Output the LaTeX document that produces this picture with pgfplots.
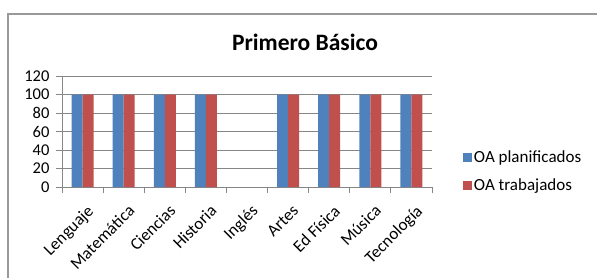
\documentclass[border=0pt]{standalone}
\usepackage{fontspec}
\setmainfont{Carlito}
\usepackage{pgfplots}
\pgfplotsset{compat=1.18}
\definecolor{cblue}{HTML}{4F81BD}
\definecolor{cred}{HTML}{C0504D}
\definecolor{cgrid}{HTML}{868686}
\begin{document}
\begin{tikzpicture}[x=1pt,y=1pt]
\useasboundingbox (0,0) rectangle (597,277);
\draw[color=black!40, line width=1.5pt] (8,-5) -- (8,263) -- (605,263);
\node[font=\fontsize{23.5}{27}\selectfont\bfseries] at (305,235) {Primero Básico};
\begin{axis}[
  at={(62pt,90pt)}, anchor=south west,
  scale only axis, width=370pt, height=111pt,
  xmin=-0.5, xmax=8.5, ymin=0, ymax=120,
  ybar=0pt, bar width=11pt,
  axis x line*=bottom, axis y line*=left,
  ytick={0,20,...,120}, ymajorgrids,
  grid style={cgrid, line width=0.8pt},
  xtick={0,...,8},
  xticklabels={Lenguaje, Matemática, Ciencias, Historia, Inglés, Artes, Ed Física, Música, Tecnología},
  major x tick style={draw=none},
  minor xtick={-0.5,0.5,...,8.5},
  x tick label style={rotate=45, anchor=north east, inner sep=1pt, yshift=-9pt, xshift=-4pt, font=\fontsize{17}{20}\selectfont},
  y tick label style={font=\fontsize{16.5}{20}\selectfont, xshift=-3pt},
  tick align=outside,
  minor tick length=6pt, major tick length=6pt,
  axis line style={cgrid, line width=0.8pt},
  tick style={cgrid, line width=0.8pt},
  /pgf/number format/assume math mode=true,
  legend style={at={(1.075,0.14)}, anchor=west, draw=none, fill=none,
    font=\fontsize{17}{20}\selectfont, row sep=11pt,
    legend cell align=left},
  legend image code/.code={\fill[#1] (0pt,-4.5pt) rectangle (9pt,4.5pt);},
]
\addplot[fill=cblue, draw=none] coordinates {(0,100) (1,100) (2,100) (3,100) (5,100) (6,100) (7,100) (8,100)};
\addplot[fill=cred, draw=none] coordinates {(0,100) (1,100) (2,100) (3,100) (5,100) (6,100) (7,100) (8,100)};
\legend{OA planificados, OA trabajados}
\end{axis}
\end{tikzpicture}
\end{document}
